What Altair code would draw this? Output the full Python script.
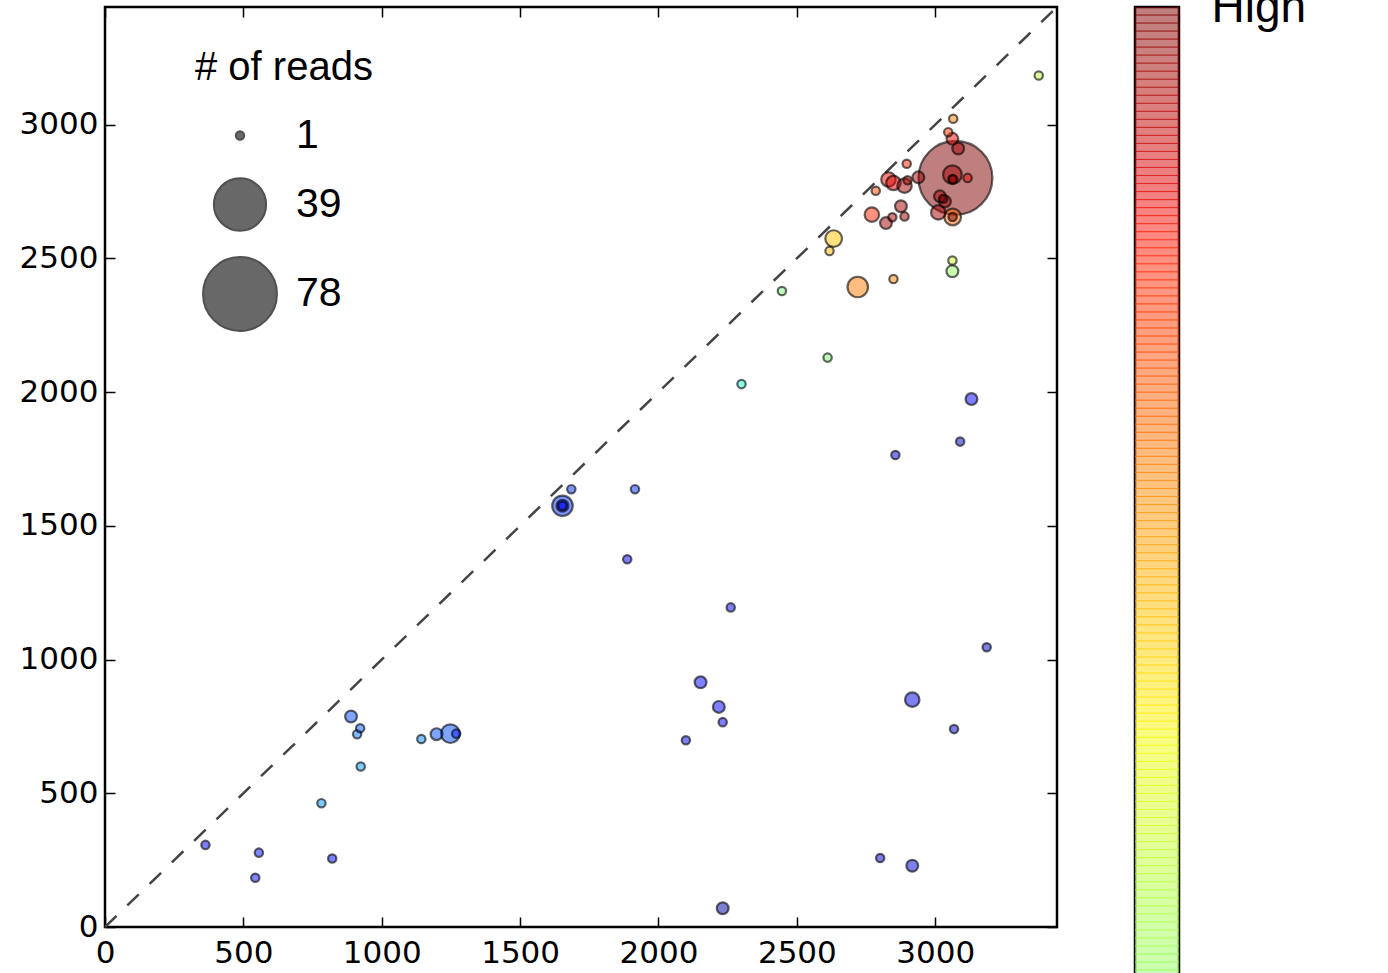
import altair as alt
import pandas as pd

# Coverage position on each axis, read count per cluster and its heat level (0..1)
pos_x = [363, 556, 543, 821, 782, 924, 889, 922, 911, 1143, 1198, 1248, 1269,
         1685, 1653, 1653, 1653, 1915, 1887, 2261, 2152, 2218, 2232, 2099,
         3186, 2917, 3068, 2801, 2917, 2232, 3131, 3090, 2856,
         2300, 2611, 2446, 2633, 2618, 2720, 2849, 3062, 3062, 3374,
         3065, 3047, 3062, 3083, 2897, 2939, 3073, 3062, 3062, 3065, 3117,
         2831, 2849, 2889, 2900, 2785, 2771, 2876, 2845, 2822, 2889,
         3017, 3029, 3035, 3011, 3063, 3063]
pos_y = [307, 278, 184, 256, 463, 600, 787, 743, 721, 703, 721, 723, 723,
         1637, 1575, 1575, 1575, 1637, 1375, 1195, 915, 823, 766, 698,
         1046, 850, 740, 258, 229, 70, 1974, 1815, 1765,
         2030, 2129, 2378, 2574, 2528, 2393, 2423, 2492, 2452, 3184,
         3022, 2972, 2947, 2911, 2854, 2803, 2801, 2813, 2797, 2795, 2801,
         2795, 2782, 2772, 2792, 2753, 2664, 2695, 2654, 2632, 2657,
         2732, 2723, 2713, 2672, 2655, 2655]
n_reads = [1, 1, 1, 1, 1, 1, 2, 1, 1, 1, 2, 5, 1,
           1, 6, 2, 1, 1, 1, 1, 2, 2, 1, 1,
           1, 3, 1, 1, 2, 2, 2, 1, 1,
           1, 1, 1, 4, 1, 6, 1, 1, 2, 1,
           1, 1, 2, 2, 1, 2, 78, 5, 1, 1, 1,
           3, 3, 3, 1, 1, 3, 2, 1, 2, 1,
           2, 1, 2, 3, 4, 1]
heat = [0.10, 0.14, 0.14, 0.13, 0.27, 0.28, 0.20, 0.22, 0.24, 0.26, 0.20, 0.20, 0.15,
        0.17, 0.17, 0.14, 0.10, 0.17, 0.10, 0.12, 0.13, 0.12, 0.10, 0.10,
        0.06, 0.08, 0.07, 0.07, 0.08, 0.03, 0.11, 0.06, 0.08,
        0.38, 0.50, 0.50, 0.70, 0.72, 0.78, 0.77, 0.60, 0.53, 0.58,
        0.77, 0.85, 0.90, 0.97, 0.87, 0.97, 1.00, 0.97, 0.97, 0.97, 0.90,
        0.90, 0.92, 0.97, 0.97, 0.83, 0.87, 0.97, 0.97, 0.97, 0.97,
        0.97, 1.00, 0.97, 0.97, 0.80, 1.00]

AXIS_MAX = 3440
diag = [0, AXIS_MAX]
tick_vals = [0, 500, 1000, 1500, 2000, 2500, 3000]
legend_vals = [1, 39, 78]

# "jet" colour map break points
JET_STOPS = [0, 0.11, 0.125, 0.34, 0.35, 0.375, 0.64, 0.65, 0.66, 0.89, 0.91, 1]
JET_COLORS = ["#000080", "#0000ff", "#0000ff", "#00dbff", "#00e6f7", "#15ffe2",
              "#efff08", "#f7f500", "#ffec00", "#ff1300", "#e80000", "#800000"]
jet = alt.Scale(domain=JET_STOPS, range=JET_COLORS, interpolate="rgb")

# colour bar: one stripe per colour-map entry
N_LEVELS = 256
cbar_lo = [i / N_LEVELS for i in range(N_LEVELS)]
cbar_hi = [(i + 1) / N_LEVELS for i in range(N_LEVELS)]
cbar_mid = [(i + 0.5) / N_LEVELS for i in range(N_LEVELS)]

pts = pd.DataFrame({"x": pos_x, "y": pos_y, "reads": n_reads, "heat": heat})
pts = pts.sort_values("reads", ascending=False)
line_df = pd.DataFrame({"v": diag})
cbar_df = pd.DataFrame({"lo": cbar_lo, "hi": cbar_hi, "mid": cbar_mid})

xs = alt.Scale(domain=[0, AXIS_MAX], nice=False, zero=False)
ys = alt.Scale(domain=[0, AXIS_MAX], nice=False, zero=False)

TICK_FONT = "DejaVu Sans"
TEXT_FONT = "Liberation Sans"


def inner_axis(orient, labels=True, pad=10):
    return alt.Axis(orient=orient, values=tick_vals, offset=-10, tickSize=10,
                    tickWidth=1.5, tickColor="black", domain=False, grid=False,
                    labels=labels, labelFont=TICK_FONT, labelFontSize=31,
                    labelColor="black", labelPadding=pad, title=None, format="d",
                    labelOverlap=False, labelFlush=False)


diagonal = alt.Chart(line_df).mark_line(
    strokeDash=[16, 15], color="#444444", strokeWidth=2.5
).encode(
    x=alt.X("v:Q", scale=xs, axis=inner_axis("top", labels=False)),
    y=alt.Y("v:Q", scale=ys, axis=inner_axis("right", labels=False)),
)

dots = alt.Chart(pts).mark_circle(
    stroke="black", strokeWidth=2.2, strokeOpacity=0.6, fillOpacity=0.5, opacity=1
).encode(
    x=alt.X("x:Q", scale=xs, axis=inner_axis("bottom", pad=11)),
    y=alt.Y("y:Q", scale=ys, axis=inner_axis("left", pad=7)),
    fill=alt.Fill("heat:Q", scale=jet, legend=None),
    size=alt.Size(
        "reads:Q",
        scale=alt.Scale(domain=[0, 78], range=[0, 5460], zero=True, nice=False),
        legend=alt.Legend(
            values=legend_vals, title="# of reads", orient="none",
            legendX=90, legendY=41, symbolType="circle", symbolOffset=7,
            symbolFillColor="#686868", symbolStrokeColor="#505050",
            symbolStrokeWidth=2, symbolOpacity=1,
            titleFont=TEXT_FONT, titleFontSize=40, titleFontWeight="normal",
            titleColor="black", titlePadding=27,
            labelFont=TEXT_FONT, labelFontSize=41, labelColor="black",
            labelOffset=18, rowPadding=18,
        ),
    ),
)

scatter = alt.layer(diagonal, dots).resolve_axis(
    x="independent", y="independent"
).properties(width=952, height=920)

colorbar = alt.Chart(cbar_df).mark_rect(
    clip=True, fillOpacity=0.5, strokeOpacity=0.5, strokeWidth=1
).encode(
    y=alt.Y("lo:Q", scale=alt.Scale(domain=[1 - 121 / N_LEVELS, 1], nice=False, zero=False),
            axis=alt.Axis(orient="right", values=[1], labelExpr="'High'", ticks=False,
                          domain=False, grid=False, labelFont=TEXT_FONT, labelFontSize=46,
                          labelColor="black", labelPadding=32, labelAlign="left",
                          labelBaseline="alphabetic", labelOffset=14, title=None)),
    y2="hi:Q",
    fill=alt.Fill("mid:Q", scale=jet, legend=None),
    stroke=alt.Stroke("mid:Q", scale=jet, legend=None),
).properties(width=44, height=971)

chart = alt.hconcat(scatter, colorbar, spacing=69).resolve_scale(
    fill="independent", stroke="independent"
).properties(
    background="white",
    padding={"left": 17, "top": -18, "right": 0, "bottom": -3},
).configure_view(stroke="black", strokeWidth=2.5)

chart.save("out.html", embed_options={"renderer": "svg", "actions": False})
